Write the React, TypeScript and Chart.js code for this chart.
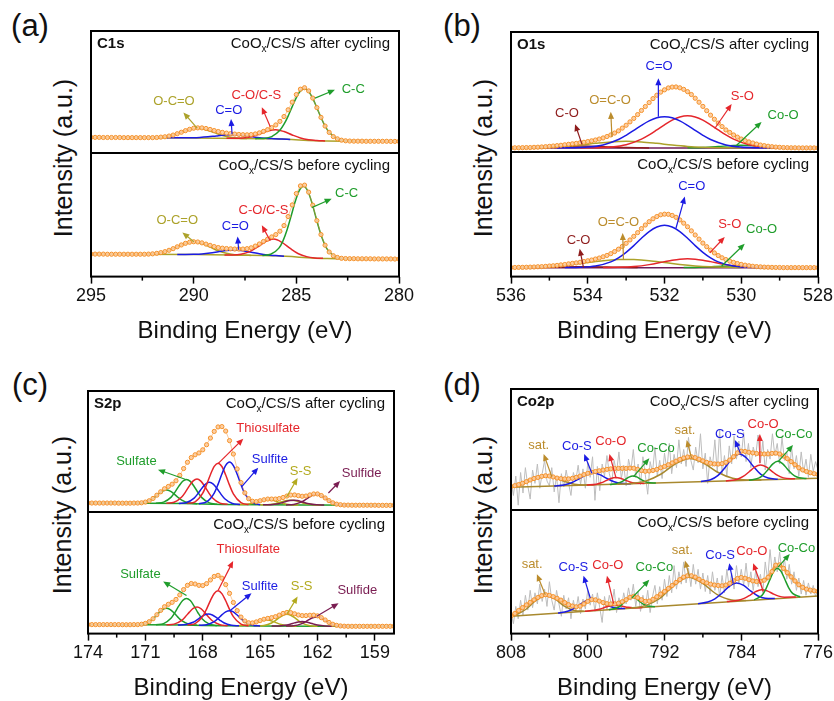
import { useEffect, useRef } from 'react';
import { Chart, registerables } from 'chart.js';

Chart.register(...registerables);

const FONT = '"Liberation Sans", Arial, Helvetica, sans-serif';
type Pt = [number, number];
type Ann = [string, string, number, number, number, number, number, number];

const OLIVE = '#aca22a', GOLD = '#bb8c2c', BLUE = '#1b1be3', RED = '#e5262b', GREEN = '#1f9d2b';
const DRED = '#8e1c1c', PURPLE = '#7a1d52', BGPUR = '#6e1c58', BROWN = '#a8892e', SSOL = '#b3aa1e';

// ---------------- (a) C1s ----------------
const aX = [
  295, 294.8, 294.6, 294.4, 294.2, 294, 293.8, 293.6, 293.4, 293.2,
  293, 292.8, 292.6, 292.4, 292.2, 292, 291.8, 291.6, 291.4, 291.2,
  291, 290.8, 290.6, 290.4, 290.2, 290, 289.8, 289.6, 289.4, 289.2,
  289, 288.8, 288.6, 288.4, 288.2, 288, 287.8, 287.6, 287.4, 287.2,
  287, 286.8, 286.6, 286.4, 286.2, 286, 285.8, 285.6, 285.4, 285.2,
  285, 284.8, 284.6, 284.4, 284.2, 284, 283.8, 283.6, 283.4, 283.2,
  283, 282.8, 282.6, 282.4, 282.2, 282, 281.8, 281.6, 281.4, 281.2,
  281, 280.8, 280.6, 280.4, 280.2, 280];
const aTopFit = [
  12.8, 12.8, 12.8, 12.7, 12.7, 12.7, 12.7, 12.7, 12.6, 12.6,
  12.6, 12.6, 12.6, 12.6, 12.6, 12.6, 12.7, 13.0, 13.3, 13.9,
  14.7, 15.8, 17.0, 18.3, 19.4, 20.3, 20.6, 20.6, 20.1, 19.3,
  18.4, 17.6, 16.9, 16.3, 15.9, 15.5, 15.2, 15.0, 14.9, 15.1,
  15.6, 16.5, 17.7, 19.1, 20.8, 23.0, 25.9, 29.9, 35.4, 41.7,
  47.9, 52.3, 53.5, 50.9, 45.0, 37.2, 29.2, 22.1, 16.9, 13.5,
  11.6, 10.5, 10.0, 9.8, 9.7, 9.7, 9.7, 9.6, 9.6, 9.6,
  9.6, 9.6, 9.6, 9.5, 9.5, 9.5];
const aBotFit = [
  18.2, 18.2, 18.2, 18.2, 18.1, 18.1, 18.1, 18.1, 18.1, 18.1,
  18.1, 18.1, 18.1, 18.1, 18.2, 18.4, 18.8, 19.4, 20.2, 21.3,
  22.6, 24.1, 25.6, 26.9, 27.8, 28.2, 28.0, 27.3, 26.3, 25.3,
  24.3, 23.5, 23.0, 22.7, 22.5, 22.3, 22.3, 22.3, 22.6, 23.3,
  24.7, 26.4, 28.4, 30.3, 32.1, 34.0, 36.7, 41.3, 48.6, 58.0,
  67.2, 73.4, 74.0, 68.3, 57.8, 45.3, 34.0, 25.4, 19.9, 16.9,
  15.5, 14.8, 14.6, 14.5, 14.5, 14.4, 14.4, 14.4, 14.4, 14.3,
  14.3, 14.3, 14.3, 14.3, 14.2, 14.2];
const aTopOCO: Pt[] = [[292.2, 12.58], [291.8, 12.74], [291.4, 13.34], [291.0, 14.73], [290.6, 16.98], [290.2, 19.3], [289.8, 20.22], [289.4, 19.13], [289.0, 16.7], [288.6, 14.34], [288.2, 12.84], [287.8, 12.13], [287.4, 11.86]];
const aTopCdO: Pt[] = [[291.3, 12.43], [290.5, 12.41], [290.1, 12.5], [289.7, 12.72], [289.3, 13.23], [288.9, 13.99], [288.5, 14.67], [288.1, 14.92], [287.7, 14.53], [287.3, 13.71], [286.9, 12.81], [286.5, 12.15], [286.1, 11.77], [285.7, 11.44], [285.3, 11.1]];
const aTopCOS: Pt[] = [[288.4, 12.0], [288.0, 12.01], [287.6, 12.31], [287.2, 13.35], [286.8, 15.45], [286.4, 17.93], [286.0, 19.1], [285.6, 17.61], [285.2, 14.77], [284.8, 12.32], [284.4, 10.92], [284.0, 10.26], [283.6, 9.89]];
const aTopCC: Pt[] = [[287.0, 11.77], [286.6, 11.96], [286.2, 13.39], [285.8, 18.59], [285.6, 23.57], [285.4, 30.27], [285.2, 37.97], [285.0, 45.38], [284.8, 50.74], [284.6, 52.59], [284.4, 50.45], [284.2, 44.8], [284.0, 37.11], [283.8, 29.12], [283.6, 22.13], [283.4, 16.93], [283.0, 11.56], [282.6, 10.03], [282.2, 9.73]];
const aTopBg: Pt[] = [[295, 12.8], [290, 12.3], [286, 11.6], [283.5, 9.8], [280, 9.5]];
const aBotOCO: Pt[] = [[292.8, 18.04], [292.4, 18.11], [292.0, 18.43], [291.6, 19.36], [291.2, 21.28], [290.8, 24.1], [290.4, 26.85], [290.0, 28.0], [289.6, 26.72], [289.2, 23.84], [288.8, 20.88], [288.4, 18.83], [288.0, 17.77], [287.6, 17.32], [287.2, 17.12]];
const aBotCdO: Pt[] = [[290.8, 17.87], [290.4, 17.88], [290.0, 18.0], [289.6, 18.3], [289.2, 19.02], [288.8, 20.13], [288.4, 21.2], [288.0, 21.6], [287.6, 21.0], [287.2, 19.73], [286.8, 18.42], [286.4, 17.5], [286.0, 17.0], [285.6, 16.5]];
const aBotCOS: Pt[] = [[288.5, 17.46], [288.1, 17.51], [287.7, 18.08], [287.3, 19.97], [286.9, 23.78], [286.5, 28.28], [286.1, 30.33], [285.7, 27.71], [285.3, 22.76], [284.9, 18.49], [284.5, 16.15], [284.1, 15.12], [283.7, 14.8]];
const aBotCC: Pt[] = [[286.65, 17.09], [286.25, 18.03], [285.85, 23.02], [285.65, 28.94], [285.45, 37.92], [285.25, 49.25], [285.05, 60.97], [284.85, 69.8], [284.65, 73.02], [284.45, 69.44], [284.25, 60.26], [284.05, 48.19], [283.85, 36.51], [283.65, 27.18], [283.45, 21.03], [283.05, 15.72], [282.65, 14.63], [282.25, 14.46]];
const aBotBg: Pt[] = [[295, 18.2], [290, 17.8], [286, 16.8], [283.5, 14.6], [280, 14.2]];
const aTopAnn: Ann[] = [
  ['O-C=O', OLIVE, 290.96, 42.2, 289.83, 20.4, 290.5, 33.2],
  ['C=O', BLUE, 288.29, 34.6, 288.13, 15.5, 288.18, 27.8],
  ['C-O/C-S', RED, 286.95, 46.9, 286.27, 21.5, 286.68, 37.6],
  ['C-C', GREEN, 282.23, 52.3, 284.09, 45, 283.12, 51.8]];
const aBotAnn: Ann[] = [
  ['O-C=O', OLIVE, 290.8, 45.6, 289.99, 28.2, 290.55, 35.7],
  ['C=O', BLUE, 287.97, 40.2, 287.81, 21.7, 287.86, 32.4],
  ['C-O/C-S', RED, 286.6, 53.6, 286.27, 29, 286.68, 41.5],
  ['C-C', GREEN, 282.55, 67, 284.25, 55.8, 283.28, 63]];

// ---------------- (b) O1s ----------------
const bX = [
  536, 535.9, 535.8, 535.7, 535.6, 535.5, 535.4, 535.3, 535.2, 535.1,
  535, 534.9, 534.8, 534.7, 534.6, 534.5, 534.4, 534.3, 534.2, 534.1,
  534, 533.9, 533.8, 533.7, 533.6, 533.5, 533.4, 533.3, 533.2, 533.1,
  533, 532.9, 532.8, 532.7, 532.6, 532.5, 532.4, 532.3, 532.2, 532.1,
  532, 531.9, 531.8, 531.7, 531.6, 531.5, 531.4, 531.3, 531.2, 531.1,
  531, 530.9, 530.8, 530.7, 530.6, 530.5, 530.4, 530.3, 530.2, 530.1,
  530, 529.9, 529.8, 529.7, 529.6, 529.5, 529.4, 529.3, 529.2, 529.1,
  529, 528.9, 528.8, 528.7, 528.6, 528.5, 528.4, 528.3, 528.2, 528.1,
  528];
const bTopFit = [
  3.5, 3.5, 3.5, 3.6, 3.7, 3.7, 3.9, 4.0, 4.2, 4.4,
  4.7, 5.0, 5.3, 5.6, 6.0, 6.4, 6.8, 7.2, 7.7, 8.1,
  8.7, 9.3, 10.0, 10.8, 11.7, 12.9, 14.2, 15.8, 17.6, 19.9,
  22.3, 25.1, 28.0, 31.2, 34.6, 37.9, 41.2, 44.5, 47.3, 49.9,
  51.8, 53.4, 54.1, 54.2, 53.5, 52.2, 50.3, 47.9, 44.8, 41.5,
  38.0, 34.4, 30.7, 27.3, 24.1, 21.2, 18.4, 16.3, 14.2, 12.4,
  10.8, 9.5, 8.4, 7.5, 6.6, 5.8, 5.3, 4.8, 4.4, 4.1,
  3.9, 3.7, 3.6, 3.5, 3.5, 3.4, 3.4, 3.4, 3.4, 3.4,
  3.4];
const bBotFit = [
  7.3, 7.3, 7.4, 7.4, 7.5, 7.6, 7.7, 7.9, 8.0, 8.2,
  8.5, 8.7, 9.0, 9.4, 9.7, 10.2, 10.6, 11.0, 11.5, 12.1,
  12.7, 13.3, 14.1, 14.9, 15.9, 17.0, 18.4, 20.1, 22.0, 24.2,
  26.7, 29.4, 32.3, 35.3, 38.5, 41.4, 44.1, 46.4, 48.2, 49.6,
  50.1, 50.0, 49.1, 47.6, 45.5, 42.9, 40.0, 36.7, 33.4, 30.1,
  26.9, 24.0, 21.3, 19.0, 16.9, 15.1, 13.7, 12.4, 11.4, 10.5,
  9.8, 9.2, 8.7, 8.3, 8.0, 7.8, 7.6, 7.5, 7.4, 7.3,
  7.3, 7.2, 7.2, 7.2, 7.2, 7.2, 7.2, 7.2, 7.2, 7.2,
  7.2];
const bTopCdO: Pt[] = [[534.8, 3.42], [534.4, 3.54], [534.0, 4.1], [533.6, 5.9], [533.2, 10.4], [533.0, 13.9], [532.8, 18.0], [532.6, 22.2], [532.4, 25.9], [532.2, 28.5], [532.0, 29.4], [531.8, 28.5], [531.6, 25.9], [531.4, 22.2], [531.2, 18.0], [531.0, 13.9], [530.8, 10.4], [530.4, 5.9], [530.0, 4.1], [529.6, 3.54], [529.2, 3.42]];
const bTopSO: Pt[] = [[534.2, 3.42], [533.8, 3.54], [533.4, 4.12], [533.0, 6.0], [532.6, 10.7], [532.4, 14.2], [532.2, 18.4], [532.0, 22.7], [531.8, 26.6], [531.6, 29.2], [531.4, 30.2], [531.2, 29.2], [531.0, 26.6], [530.8, 22.7], [530.6, 18.4], [530.4, 14.2], [530.2, 10.7], [529.8, 6.0], [529.4, 4.12], [529.0, 3.54], [528.6, 3.42]];
const bTopOCO: Pt[] = [[536, 3.43], [535.4, 3.6], [535.0, 3.96], [534.6, 4.67], [534.2, 5.81], [533.8, 7.21], [533.4, 8.42], [533.0, 8.9], [532.6, 8.42], [532.2, 7.21], [531.8, 5.81], [531.4, 4.67], [531.0, 3.96], [530.6, 3.6], [530.0, 3.43]];
const bTopCO: Pt[] = [[536, 3.43], [535.4, 3.66], [535.0, 4.08], [534.6, 4.63], [534.2, 4.9], [533.8, 4.63], [533.4, 4.08], [533.0, 3.66], [532.4, 3.43]];
const bTopCoO: Pt[] = [[531.4, 3.45], [531.0, 3.72], [530.6, 4.5], [530.2, 5.44], [530.0, 5.6], [529.8, 5.44], [529.4, 4.5], [529.0, 3.72], [528.6, 3.45]];
const bTopBg: Pt[] = [[536, 3.4], [528, 3.4]];
const bBotCdO: Pt[] = [[534.6, 7.23], [534.2, 7.44], [533.8, 8.46], [533.4, 11.8], [533.2, 15.05], [533.0, 19.5], [532.8, 24.9], [532.6, 30.8], [532.4, 36.1], [532.2, 39.8], [532.0, 41.2], [531.8, 39.8], [531.6, 36.1], [531.4, 30.8], [531.2, 24.9], [531.0, 19.5], [530.8, 15.05], [530.6, 11.8], [530.2, 8.46], [529.8, 7.44], [529.4, 7.23]];
const bBotOCO: Pt[] = [[536, 7.29], [535.6, 7.46], [535.2, 7.84], [534.8, 8.59], [534.4, 9.77], [534.0, 11.28], [533.6, 12.75], [533.2, 13.67], [533.0, 13.8], [532.8, 13.67], [532.4, 12.75], [532.0, 11.28], [531.6, 9.77], [531.2, 8.59], [530.8, 7.84], [530.4, 7.46], [530.0, 7.29]];
const bBotSO: Pt[] = [[533.6, 7.24], [533.2, 7.41], [532.8, 8.05], [532.4, 9.61], [532.0, 12.01], [531.8, 13.17], [531.6, 14.0], [531.4, 14.3], [531.2, 14.0], [531.0, 13.17], [530.8, 12.01], [530.4, 9.61], [530.0, 8.05], [529.6, 7.41], [529.2, 7.24]];
const bBotCoO: Pt[] = [[531.5, 7.28], [531.1, 7.58], [530.7, 8.16], [530.5, 8.4], [530.3, 8.5], [530.1, 8.4], [529.9, 8.16], [529.5, 7.58], [529.1, 7.28]];
const bBotCO: Pt[] = [[535.5, 7.27], [535.1, 7.43], [534.7, 7.71], [534.3, 7.96], [534.1, 8.0], [533.9, 7.96], [533.5, 7.71], [533.1, 7.43], [532.7, 7.27]];
const bBotBg: Pt[] = [[536, 7.2], [528, 7.2]];
const bTopAnn: Ann[] = [
  ['C-O', DRED, 534.54, 32, 534.15, 6.4, 534.33, 23.2],
  ['O=C-O', GOLD, 533.42, 43.3, 533.37, 12.6, 533.4, 33.5],
  ['C=O', BLUE, 532.14, 71.2, 532.16, 29.3, 532.16, 61.5],
  ['S-O', RED, 529.97, 46, 530.69, 19.6, 530.25, 40],
  ['Co-O', GREEN, 528.91, 30.7, 530.12, 5.6, 529.47, 25.1]];
const bBotAnn: Ann[] = [
  ['C-O', DRED, 534.24, 29.2, 534.11, 7.2, 534.21, 22.3],
  ['O=C-O', GOLD, 533.2, 43.5, 533.07, 13.8, 533.09, 35],
  ['C=O', BLUE, 531.29, 72.1, 531.7, 39, 531.47, 64.2],
  ['S-O', RED, 530.3, 42.2, 530.82, 19.1, 530.43, 31.8],
  ['Co-O', GREEN, 529.47, 37.7, 530.51, 8.5, 529.91, 26.3]];

// ---------------- (c) S2p ----------------
const cX = [
  174, 173.8, 173.6, 173.4, 173.2, 173, 172.8, 172.6, 172.4, 172.2,
  172, 171.8, 171.6, 171.4, 171.2, 171, 170.8, 170.6, 170.4, 170.2,
  170, 169.8, 169.6, 169.4, 169.2, 169, 168.8, 168.6, 168.4, 168.2,
  168, 167.8, 167.6, 167.4, 167.2, 167, 166.8, 166.6, 166.4, 166.2,
  166, 165.8, 165.6, 165.4, 165.2, 165, 164.8, 164.6, 164.4, 164.2,
  164, 163.8, 163.6, 163.4, 163.2, 163, 162.8, 162.6, 162.4, 162.2,
  162, 161.8, 161.6, 161.4, 161.2, 161, 160.8, 160.6, 160.4, 160.2,
  160, 159.8, 159.6, 159.4, 159.2, 159, 158.8, 158.6, 158.4, 158.2,
  158];
const cTopFit = [
  7.4, 7.4, 7.4, 7.4, 7.4, 7.4, 7.4, 7.4, 7.3, 7.3,
  7.3, 7.3, 7.4, 7.4, 7.6, 8.2, 9.3, 11.2, 13.9, 16.7,
  19.2, 21.1, 23.0, 25.8, 30.3, 35.9, 41.1, 45.0, 47.3, 48.8,
  51.4, 55.6, 61.1, 66.6, 70.3, 70.6, 66.9, 59.0, 47.9, 35.6,
  24.3, 15.8, 11.0, 8.9, 8.6, 9.3, 10.1, 10.7, 10.7, 10.7,
  11.1, 12.0, 13.2, 14.0, 14.1, 13.5, 13.0, 13.2, 14.1, 14.9,
  14.9, 13.6, 11.6, 9.4, 7.6, 6.5, 6.0, 5.7, 5.7, 5.6,
  5.6, 5.6, 5.6, 5.6, 5.6, 5.6, 5.5, 5.5, 5.5, 5.5,
  5.5];
const cBotFit = [
  7.4, 7.4, 7.4, 7.4, 7.4, 7.4, 7.4, 7.4, 7.4, 7.3,
  7.3, 7.3, 7.4, 7.4, 7.7, 8.4, 9.8, 12.2, 15.5, 19.1,
  22.1, 24.1, 25.7, 28.1, 31.8, 36.2, 39.7, 41.2, 40.8, 39.7,
  39.5, 41.1, 44.1, 47.0, 47.9, 45.6, 40.3, 33.1, 25.6, 18.9,
  13.6, 10.4, 8.9, 8.8, 9.6, 10.7, 11.8, 12.5, 13.1, 13.9,
  15.2, 16.6, 17.4, 17.2, 16.3, 15.3, 14.8, 14.8, 15.1, 15.2,
  14.6, 13.1, 11.2, 9.2, 7.7, 6.8, 6.3, 6.1, 6.0, 6.0,
  6.0, 6.0, 6.0, 6.0, 6.0, 6.0, 6.0, 6.0, 6.0, 6.0,
  6.0];
const cTopSulfate1: Pt[] = [[171.5, 7.37], [171.1, 7.84], [170.7, 10.13], [170.5, 12.39], [170.3, 15.07], [170.1, 17.29], [169.9, 18.13], [169.7, 17.22], [169.5, 14.94], [169.3, 12.21], [169.1, 9.89], [168.7, 7.44], [168.3, 6.81]];
const cTopSulfate2: Pt[] = [[170.45, 7.31], [170.05, 8.14], [169.65, 12.32], [169.45, 16.47], [169.25, 21.34], [169.05, 25.41], [168.85, 26.95], [168.65, 25.28], [168.45, 21.11], [168.25, 16.14], [168.05, 11.89], [167.65, 7.51], [167.25, 6.48]];
const cTopThio1: Pt[] = [[169.9, 7.23], [169.5, 8.07], [169.1, 12.37], [168.9, 16.61], [168.7, 21.56], [168.5, 25.69], [168.3, 27.26], [168.1, 25.55], [167.9, 21.28], [167.7, 16.19], [167.5, 11.83], [167.1, 7.34], [166.7, 6.34]];
const cTopSulfite1: Pt[] = [[169.25, 7.12], [168.85, 7.83], [168.45, 11.51], [168.25, 15.2], [168.05, 19.54], [167.85, 23.16], [167.65, 24.53], [167.45, 23.02], [167.25, 19.26], [167.05, 14.78], [166.85, 10.97], [166.45, 7.07], [166.05, 6.19]];
const cTopThio2: Pt[] = [[168.8, 7.09], [168.4, 8.46], [168.0, 15.52], [167.8, 22.56], [167.6, 30.82], [167.4, 37.72], [167.2, 40.37], [167.0, 37.58], [166.8, 30.57], [166.6, 22.2], [166.4, 15.05], [166.0, 7.77], [165.6, 6.18]];
const cTopSulfite2: Pt[] = [[168.2, 6.88], [167.8, 8.3], [167.4, 15.58], [167.2, 22.82], [167.0, 31.33], [166.8, 38.46], [166.6, 41.22], [166.4, 38.38], [166.2, 31.17], [166.0, 22.55], [165.8, 15.2], [165.4, 7.7], [165.0, 6.06]];
const cTopSS1: Pt[] = [[166.2, 6.16], [165.8, 6.28], [165.4, 7.15], [165.2, 8.06], [165.0, 9.12], [164.8, 10.03], [164.6, 10.38], [164.4, 10.0], [164.2, 9.07], [164.0, 7.96], [163.8, 7.0], [163.4, 6.02], [163.0, 5.8]];
const cTopSS2: Pt[] = [[165.0, 5.92], [164.6, 6.08], [164.2, 6.89], [164.0, 7.72], [163.8, 8.69], [163.6, 9.49], [163.4, 9.8], [163.2, 9.47], [163.0, 8.64], [162.8, 7.64], [162.6, 6.79], [162.2, 5.92], [161.8, 5.71]];
const cTopSulfide1: Pt[] = [[164.85, 5.91], [164.45, 6.06], [164.05, 6.88], [163.85, 7.71], [163.65, 8.68], [163.45, 9.48], [163.25, 9.79], [163.05, 9.46], [162.85, 8.63], [162.65, 7.63], [162.45, 6.78], [162.05, 5.9], [161.65, 5.7]];
const cTopSulfide2: Pt[] = [[163.65, 5.85], [163.25, 6.24], [162.85, 8.11], [162.65, 9.99], [162.45, 12.18], [162.25, 14.0], [162.05, 14.7], [161.85, 13.98], [161.65, 12.12], [161.45, 9.91], [161.25, 8.02], [160.85, 6.08], [160.45, 5.66]];
const cTopBg: Pt[] = [[174, 7.4], [171, 7.3], [169, 7.0], [167, 6.3], [165, 5.9], [162, 5.7], [158, 5.5]];
const cBotSulfate1: Pt[] = [[171.5, 7.38], [171.1, 7.98], [170.7, 10.86], [170.5, 13.71], [170.3, 17.07], [170.1, 19.87], [169.9, 20.93], [169.7, 19.8], [169.5, 16.94], [169.3, 13.53], [169.1, 10.62], [168.7, 7.6], [168.3, 6.89]];
const cBotSulfate2: Pt[] = [[170.45, 7.32], [170.05, 8.24], [169.65, 12.84], [169.45, 17.41], [169.25, 22.77], [169.05, 27.25], [168.85, 28.96], [168.65, 27.15], [168.45, 22.59], [168.25, 17.15], [168.05, 12.5], [167.65, 7.74], [167.25, 6.66]];
const cBotThio1: Pt[] = [[169.9, 7.2], [169.5, 7.81], [169.1, 10.94], [168.9, 14.02], [168.7, 17.65], [168.5, 20.67], [168.3, 21.83], [168.1, 20.58], [167.9, 17.46], [167.7, 13.73], [167.5, 10.55], [167.1, 7.27], [166.7, 6.52]];
const cBotSulfite1: Pt[] = [[169.3, 7.08], [168.9, 7.43], [168.5, 9.32], [168.3, 11.25], [168.1, 13.5], [167.9, 15.38], [167.7, 16.08], [167.5, 15.28], [167.3, 13.3], [167.1, 10.95], [166.9, 8.93], [166.5, 6.89], [166.1, 6.41]];
const cBotThio2: Pt[] = [[168.8, 7.08], [168.4, 8.26], [168.0, 14.24], [167.8, 20.19], [167.6, 27.17], [167.4, 33.0], [167.2, 35.25], [167.0, 32.9], [166.8, 26.99], [166.6, 19.93], [166.4, 13.9], [166.0, 7.76], [165.6, 6.42]];
const cBotSulfite2: Pt[] = [[168.2, 6.86], [167.8, 7.31], [167.4, 9.84], [167.2, 12.38], [167.0, 15.37], [166.8, 17.88], [166.6, 18.84], [166.4, 17.82], [166.2, 15.25], [166.0, 12.18], [165.8, 9.56], [165.4, 6.87], [165.0, 6.26]];
const cBotSS1: Pt[] = [[166.3, 6.42], [165.9, 6.59], [165.5, 7.64], [165.3, 8.69], [165.1, 9.94], [164.9, 10.97], [164.7, 11.38], [164.5, 10.95], [164.3, 9.87], [164.1, 8.58], [163.9, 7.49], [163.5, 6.35], [163.1, 6.09]];
const cBotSS2: Pt[] = [[165.2, 6.28], [164.8, 6.67], [164.4, 8.72], [164.2, 10.76], [164.0, 13.13], [163.8, 15.14], [163.6, 15.91], [163.4, 15.11], [163.2, 13.08], [163.0, 10.68], [162.8, 8.61], [162.4, 6.51], [162.0, 6.05]];
const cBotSulfide1: Pt[] = [[164.4, 6.18], [164.0, 6.32], [163.6, 7.1], [163.4, 7.88], [163.2, 8.8], [163.0, 9.57], [162.8, 9.85], [162.6, 9.54], [162.4, 8.75], [162.2, 7.8], [162.0, 6.99], [161.6, 6.19], [161.2, 6.02]];
const cBotSulfide2: Pt[] = [[163.65, 6.15], [163.25, 6.45], [162.85, 8.03], [162.65, 9.6], [162.45, 11.45], [162.25, 12.99], [162.05, 13.6], [161.85, 12.99], [161.65, 11.43], [161.45, 9.57], [161.25, 7.98], [160.85, 6.37], [160.45, 6.04]];
const cBotBg: Pt[] = [[174, 7.4], [171, 7.3], [169, 7.0], [167, 6.5], [165, 6.2], [162, 6.0], [158, 6.0]];
const cTopAnn: Ann[] = [
  ['Sulfate', GREEN, 171.47, 42.1, 168.85, 26.7, 170.34, 35],
  ['Thiosulfate', RED, 164.58, 69.4, 167.2, 40, 165.88, 60.6],
  ['Sulfite', BLUE, 164.49, 43.2, 165.97, 20.7, 165.1, 36.6],
  ['S-S', SSOL, 162.88, 33.9, 163.62, 12.4, 163.04, 28.1],
  ['Sulfide', PURPLE, 159.69, 32.2, 161.43, 15.7, 160.82, 25.6]];
const cBotAnn: Ann[] = [
  ['Sulfate', GREEN, 171.26, 48.8, 168.85, 31.3, 170.07, 42.8],
  ['Thiosulfate', RED, 165.62, 69.2, 167.2, 35.4, 166.41, 59.7],
  ['Sulfite', BLUE, 165.01, 39.2, 166.58, 18.8, 165.45, 33.2],
  ['S-S', SSOL, 162.83, 39.2, 163.6, 16, 163.04, 30.5],
  ['Sulfide', PURPLE, 159.92, 35.4, 162.04, 14.2, 160.9, 25]];

// ---------------- (d) Co2p ----------------
const dX = [
  808, 807.6, 807.2, 806.8, 806.4, 806, 805.6, 805.2, 804.8, 804.4,
  804, 803.6, 803.2, 802.8, 802.4, 802, 801.6, 801.2, 800.8, 800.4,
  800, 799.6, 799.2, 798.8, 798.4, 798, 797.6, 797.2, 796.8, 796.4,
  796, 795.6, 795.2, 794.8, 794.4, 794, 793.6, 793.2, 792.8, 792.4,
  792, 791.6, 791.2, 790.8, 790.4, 790, 789.6, 789.2, 788.8, 788.4,
  788, 787.6, 787.2, 786.8, 786.4, 786, 785.6, 785.2, 784.8, 784.4,
  784, 783.6, 783.2, 782.8, 782.4, 782, 781.6, 781.2, 780.8, 780.4,
  780, 779.6, 779.2, 778.8, 778.4, 778, 777.6, 777.2, 776.8, 776.4,
  776];
const dTopFit = [
  19.3, 20.1, 21.0, 22.1, 23.4, 24.8, 26.0, 26.9, 27.8, 28.3,
  28.1, 27.3, 26.4, 25.9, 25.7, 25.7, 26.2, 27.0, 28.0, 29.2,
  30.3, 31.2, 31.8, 32.4, 33.0, 33.6, 34.0, 34.3, 34.4, 34.4,
  34.4, 34.6, 34.5, 33.6, 32.6, 32.0, 32.2, 32.7, 33.6, 34.9,
  36.0, 37.4, 38.9, 40.4, 41.8, 43.0, 43.8, 44.0, 43.3, 42.0,
  40.6, 39.4, 38.6, 38.1, 38.0, 38.3, 39.4, 41.3, 44.0, 47.2,
  48.6, 48.4, 47.7, 47.2, 46.7, 46.4, 46.3, 46.4, 46.8, 47.0,
  46.3, 44.6, 42.4, 40.0, 37.4, 34.9, 33.1, 31.8, 30.8, 30.0,
  29.3];
const dBotFit = [
  14.0, 16.3, 18.7, 21.0, 23.2, 25.3, 27.3, 29.2, 30.7, 31.5,
  30.9, 29.9, 28.6, 27.1, 25.1, 23.4, 22.3, 21.7, 22.2, 24.0,
  26.1, 27.6, 27.3, 26.3, 25.1, 24.2, 24.0, 24.1, 24.6, 25.8,
  27.4, 29.4, 30.2, 29.0, 27.4, 26.1, 26.3, 27.8, 29.8, 32.0,
  34.1, 36.5, 38.9, 41.4, 43.7, 45.7, 46.8, 46.8, 45.7, 44.0,
  42.2, 41.0, 40.0, 39.3, 38.9, 38.7, 39.3, 40.7, 42.7, 44.6,
  45.4, 44.8, 43.6, 42.6, 42.1, 42.2, 43.2, 45.6, 50.2, 55.4,
  55.6, 52.8, 49.3, 45.9, 42.6, 39.5, 37.4, 36.0, 35.2, 34.6,
  34.1];
const dRawX = [
  808, 807.75, 807.5, 807.25, 807, 806.75, 806.5, 806.25, 806, 805.75, 805.5, 805.25,
  805, 804.75, 804.5, 804.25, 804, 803.75, 803.5, 803.25, 803, 802.75, 802.5, 802.25,
  802, 801.75, 801.5, 801.25, 801, 800.75, 800.5, 800.25, 800, 799.75, 799.5, 799.25,
  799, 798.75, 798.5, 798.25, 798, 797.75, 797.5, 797.25, 797, 796.75, 796.5, 796.25,
  796, 795.75, 795.5, 795.25, 795, 794.75, 794.5, 794.25, 794, 793.75, 793.5, 793.25,
  793, 792.75, 792.5, 792.25, 792, 791.75, 791.5, 791.25, 791, 790.75, 790.5, 790.25,
  790, 789.75, 789.5, 789.25, 789, 788.75, 788.5, 788.25, 788, 787.75, 787.5, 787.25,
  787, 786.75, 786.5, 786.25, 786, 785.75, 785.5, 785.25, 785, 784.75, 784.5, 784.25,
  784, 783.75, 783.5, 783.25, 783, 782.75, 782.5, 782.25, 782, 781.75, 781.5, 781.25,
  781, 780.75, 780.5, 780.25, 780, 779.75, 779.5, 779.25, 779, 778.75, 778.5, 778.25,
  778, 777.75, 777.5, 777.25, 777, 776.75, 776.5, 776.25, 776];
const dTopRaw = [
  24, 12, 28, 4, 31, 14, 35, 20, 9, 33, 22, 38,
  18, 30, 41, 24, 20, 35, 15, 28, 6, 30, 19, 33,
  22, 12, 31, 24, 37, 21, 34, 18, 39, 27, 44, 8,
  36, 16, 38, 28, 45, 30, 22, 41, 31, 48, 26, 37,
  20, 42, 33, 50, 27, 38, 21, 44, 29, 13, 40, 31,
  52, 28, 41, 26, 47, 33, 55, 30, 46, 35, 58, 38,
  50, 36, 60, 41, 33, 52, 39, 63, 34, 47, 22, 44,
  36, 58, 31, 66, 30, 45, 28, 53, 38, 61, 42, 57,
  44, 64, 40, 55, 35, 52, 44, 62, 39, 57, 33, 50,
  42, 63, 45, 55, 38, 60, 41, 48, 30, 52, 34, 45,
  28, 48, 31, 42, 27, 46, 32, 40, 33];
const dBotRaw = [
  17, 8, 22, 12, 27, 15, 31, 19, 35, 21, 33, 24,
  40, 26, 36, 22, 42, 27, 19, 35, 24, 14, 31, 20,
  29, 12, 27, 18, 30, 16, 28, 20, 35, 23, 32, 18,
  33, 21, 9, 30, 19, 31, 22, 36, 17, 29, 20, 33,
  24, 37, 27, 40, 22, 34, 18, 31, 21, 35, 17, 30,
  39, 24, 38, 27, 44, 30, 47, 33, 55, 36, 50, 40,
  58, 41, 53, 38, 56, 40, 52, 36, 49, 34, 47, 32,
  50, 35, 45, 30, 47, 33, 52, 37, 49, 36, 55, 40,
  52, 39, 57, 38, 50, 35, 51, 38, 48, 33, 58, 43,
  68, 48, 62, 50, 66, 49, 61, 44, 56, 40, 50, 35,
  45, 32, 43, 31, 41, 32, 39, 30, 37];
const dTopSat1: Pt[] = [[808, 19.16], [807.4, 19.97], [806.4, 22.55], [805.4, 26.17], [804.4, 28.14], [803.4, 26.64], [802.4, 23.49], [801.4, 21.37], [800.4, 20.71], [799.4, 20.74]];
const dTopCoS1: Pt[] = [[803.5, 19.82], [802.5, 20.62], [801.75, 22.26], [801, 25.34], [800.25, 28.92], [799.5, 30.69], [798.75, 29.27], [798, 26.04], [797.25, 23.32], [796.5, 22.02], [795.5, 21.7]];
const dTopCoO1: Pt[] = [[800.1, 20.58], [799.1, 21.36], [798.6, 22.47], [798.1, 24.23], [797.6, 26.07], [797.1, 26.95], [796.6, 26.31], [796.1, 24.69], [795.6, 23.17], [795.1, 22.3], [794.1, 21.98]];
const dTopCoCo1: Pt[] = [[797.7, 21.15], [796.9, 22.02], [796.5, 23.25], [796.1, 25.18], [795.7, 27.16], [795.3, 28.07], [794.9, 27.34], [794.5, 25.56], [794.1, 23.81], [793.7, 22.76], [792.9, 22.27]];
const dTopSat2: Pt[] = [[796.9, 21.34], [795.4, 22.0], [793.9, 24.08], [792.4, 29.56], [790.9, 37.97], [789.4, 42.65], [787.9, 38.67], [786.4, 30.96], [784.9, 26.18], [783.4, 24.8], [781.9, 24.84]];
const dTopCoS2: Pt[] = [[788.2, 23.54], [787.2, 25.0], [786.45, 28.41], [785.7, 34.97], [784.95, 42.65], [784.2, 46.32], [783.45, 43.0], [782.7, 35.67], [781.95, 29.47], [781.2, 26.41], [780.2, 25.42]];
const dTopCoO2: Pt[] = [[785.6, 24.06], [784.4, 25.44], [783.8, 27.7], [783.2, 31.42], [782.6, 35.39], [782.0, 37.23], [781.4, 35.67], [780.8, 31.98], [780.2, 28.54], [779.6, 26.56], [778.4, 25.73]];
const dTopCoCo2: Pt[] = [[783.2, 24.64], [782.2, 26.3], [781.7, 29.03], [781.2, 33.49], [780.7, 38.14], [780.2, 40.26], [779.7, 38.37], [779.2, 33.95], [778.7, 29.73], [778.2, 27.24], [777.2, 26.05]];
const dTopBg: Pt[] = [[808, 18.7], [776, 26.2]];
const dBotSat1: Pt[] = [[808, 14.45], [807.4, 15.61], [806.4, 19.9], [805.4, 26.79], [804.4, 30.86], [803.4, 27.82], [802.4, 21.96], [801.4, 18.71], [800.4, 18.12]];
const dBotCoS1: Pt[] = [[803.1, 16.66], [802.4, 17.5], [801.7, 19.29], [801, 22.46], [800.3, 26.13], [799.6, 28.03], [798.9, 26.85], [798.2, 23.91], [797.5, 21.46], [796.8, 20.39], [796.1, 20.27]];
const dBotCoO1: Pt[] = [[800.3, 17.99], [799.3, 18.84], [798.8, 19.71], [798.3, 20.97], [797.8, 22.29], [797.3, 23.02], [796.8, 22.81], [796.3, 22.01], [795.8, 21.25], [795.3, 20.9], [794.3, 21.09]];
const dBotCoCo1: Pt[] = [[797.8, 19.32], [797.0, 20.68], [796.6, 22.5], [796.2, 25.29], [795.8, 28.14], [795.4, 29.5], [795.0, 28.56], [794.6, 26.11], [794.2, 23.74], [793.8, 22.34], [793.0, 21.8]];
const dBotSat2: Pt[] = [[795.5, 20.61], [794, 22.61], [792.5, 28.4], [791, 38.94], [789.5, 45.55], [788, 40.49], [786.5, 31.5], [785, 27.26], [783.5, 26.8]];
const dBotCoS2: Pt[] = [[788.5, 24.17], [787.5, 25.51], [786.75, 28.08], [786.0, 32.76], [785.25, 38.19], [784.5, 40.93], [783.75, 38.97], [783.0, 34.3], [782.25, 30.4], [781.5, 28.61], [780.5, 28.3]];
const dBotCoO2: Pt[] = [[785.5, 25.89], [784.3, 26.98], [783.7, 28.45], [783.1, 31.01], [782.5, 33.98], [781.9, 35.53], [781.3, 34.6], [780.7, 32.25], [780.1, 30.31], [779.5, 29.46], [778.3, 29.61]];
const dBotCoCo2: Pt[] = [[782.65, 27.33], [781.85, 30.9], [781.45, 35.83], [781.05, 42.98], [780.65, 49.89], [780.25, 52.97], [779.85, 50.31], [779.45, 43.8], [779.05, 37.07], [778.65, 32.56], [777.85, 29.81]];
const dBotBg: Pt[] = [[808, 14.0], [776, 30.5]];
const dTopAnn: Ann[] = [
  ['sat.', GOLD, 805.12, 53.7, 803.74, 27.5, 804.6, 46.3],
  ['Co-S', BLUE, 801.13, 52.9, 799.57, 30.3, 800.37, 46.3],
  ['Co-O', RED, 797.6, 56.5, 797.04, 26.2, 797.74, 46.3],
  ['Co-Co', GREEN, 792.88, 51, 795.24, 27.5, 793.58, 42.7],
  ['sat.', GOLD, 789.87, 66.1, 789.17, 42.7, 789.69, 57.9],
  ['Co-S', BLUE, 785.18, 62.8, 784.08, 46.8, 784.66, 57.9],
  ['Co-O', RED, 781.72, 70.8, 782.06, 38.6, 782.06, 62.8],
  ['Co-Co', GREEN, 778.53, 62.5, 780.16, 40, 778.6, 53.7]];
const dBotAnn: Ann[] = [
  ['sat.', GOLD, 805.8, 55.6, 804.43, 31.5, 805.3, 48.1],
  ['Co-S', BLUE, 801.5, 53.8, 799.74, 28.8, 800.44, 46.8],
  ['Co-O', RED, 797.9, 54.8, 797.3, 24.2, 798.0, 46.8],
  ['Co-Co', GREEN, 793.06, 53.8, 795.4, 28.8, 793.58, 43.5],
  ['sat.', GOLD, 790.14, 67.7, 789.4, 46.2, 789.87, 59.1],
  ['Co-S', BLUE, 786.2, 62.9, 784.84, 40.9, 785.25, 57],
  ['Co-O', RED, 782.9, 66.4, 781.7, 34.1, 782.76, 57],
  ['Co-Co', GREEN, 778.25, 69.1, 780.16, 53.8, 778.94, 64.5]];

// ---------------- specs ----------------
interface Comp { pts: Pt[]; color: string }
interface Sub {
  x: number[]; fit: number[]; fitLine: number; comps: Comp[]; bg: Pt[]; bgColor: string;
  rawX?: number[]; raw?: number[]; anns: Ann[]; sample: string; tag?: string;
}
interface Panel {
  id: string; L: number; R: number; T: number; D: number; B: number;
  min: number; max: number; major: number; step: number;
  letter: string; lx: number; ly: number; yx: number; yy: number; top: Sub; bot: Sub;
}

const AFTER = '/CS/S after cycling';
const BEFORE = '/CS/S before cycling';

const panels: Panel[] = [
  {
    id: 'a', L: 91, R: 399, T: 31, D: 153, B: 277, min: 280, max: 295, major: 5, step: 2.5,
    letter: '(a)', lx: 30, ly: 25, yx: 63, yy: 158,
    top: { x: aX, fit: aTopFit, fitLine: 1, comps: [
      { pts: aTopCC, color: GREEN }, { pts: aTopCOS, color: RED }, { pts: aTopCdO, color: BLUE }, { pts: aTopOCO, color: OLIVE }],
      bg: aTopBg, bgColor: OLIVE, anns: aTopAnn, sample: AFTER, tag: 'C1s' },
    bot: { x: aX, fit: aBotFit, fitLine: 1, comps: [
      { pts: aBotCC, color: GREEN }, { pts: aBotCOS, color: RED }, { pts: aBotCdO, color: BLUE }, { pts: aBotOCO, color: OLIVE }],
      bg: aBotBg, bgColor: OLIVE, anns: aBotAnn, sample: BEFORE },
  },
  {
    id: 'b', L: 511, R: 818, T: 32, D: 152, B: 277, min: 528, max: 536, major: 2, step: 1,
    letter: '(b)', lx: 462, ly: 25, yx: 483, yy: 158,
    top: { x: bX, fit: bTopFit, fitLine: 1, comps: [
      { pts: bTopCdO, color: BLUE }, { pts: bTopSO, color: RED }, { pts: bTopOCO, color: OLIVE }, { pts: bTopCoO, color: GREEN }, { pts: bTopCO, color: DRED }],
      bg: bTopBg, bgColor: BGPUR, anns: bTopAnn, sample: AFTER, tag: 'O1s' },
    bot: { x: bX, fit: bBotFit, fitLine: 1, comps: [
      { pts: bBotCdO, color: BLUE }, { pts: bBotSO, color: RED }, { pts: bBotOCO, color: OLIVE }, { pts: bBotCoO, color: GREEN }, { pts: bBotCO, color: DRED }],
      bg: bBotBg, bgColor: BGPUR, anns: bBotAnn, sample: BEFORE },
  },
  {
    id: 'c', L: 88, R: 394, T: 391, D: 512, B: 634, min: 158, max: 174, major: 3, step: 1.5,
    letter: '(c)', lx: 30, ly: 384, yx: 62, yy: 515,
    top: { x: cX, fit: cTopFit, fitLine: 1, comps: [
      { pts: cTopSulfite2, color: BLUE }, { pts: cTopThio2, color: RED }, { pts: cTopSulfite1, color: BLUE }, { pts: cTopThio1, color: RED },
      { pts: cTopSulfate2, color: GREEN }, { pts: cTopSulfate1, color: GREEN },
      { pts: cTopSulfide2, color: PURPLE }, { pts: cTopSulfide1, color: PURPLE }, { pts: cTopSS2, color: SSOL }, { pts: cTopSS1, color: SSOL }],
      bg: cTopBg, bgColor: GREEN, anns: cTopAnn, sample: AFTER, tag: 'S2p' },
    bot: { x: cX, fit: cBotFit, fitLine: 1, comps: [
      { pts: cBotSulfite2, color: BLUE }, { pts: cBotThio2, color: RED }, { pts: cBotSulfite1, color: BLUE }, { pts: cBotThio1, color: RED },
      { pts: cBotSulfate2, color: GREEN }, { pts: cBotSulfate1, color: GREEN },
      { pts: cBotSulfide2, color: PURPLE }, { pts: cBotSulfide1, color: PURPLE }, { pts: cBotSS2, color: SSOL }, { pts: cBotSS1, color: SSOL }],
      bg: cBotBg, bgColor: GREEN, anns: cBotAnn, sample: BEFORE },
  },
  {
    id: 'd', L: 511, R: 818, T: 389, D: 510, B: 634, min: 776, max: 808, major: 8, step: 4,
    letter: '(d)', lx: 462, ly: 384, yx: 483, yy: 515,
    top: { x: dX, fit: dTopFit, fitLine: 3, comps: [
      { pts: dTopCoCo2, color: GREEN }, { pts: dTopCoO2, color: RED }, { pts: dTopCoS2, color: BLUE }, { pts: dTopSat2, color: BROWN },
      { pts: dTopCoCo1, color: GREEN }, { pts: dTopCoO1, color: RED }, { pts: dTopCoS1, color: BLUE }, { pts: dTopSat1, color: BROWN }],
      bg: dTopBg, bgColor: BROWN, rawX: dRawX, raw: dTopRaw, anns: dTopAnn, sample: AFTER, tag: 'Co2p' },
    bot: { x: dX, fit: dBotFit, fitLine: 3, comps: [
      { pts: dBotCoCo2, color: GREEN }, { pts: dBotCoO2, color: RED }, { pts: dBotCoS2, color: BLUE }, { pts: dBotSat2, color: BROWN },
      { pts: dBotCoCo1, color: GREEN }, { pts: dBotCoO1, color: RED }, { pts: dBotCoS1, color: BLUE }, { pts: dBotSat1, color: BROWN }],
      bg: dBotBg, bgColor: BROWN, rawX: dRawX, raw: dBotRaw, anns: dBotAnn, sample: BEFORE },
  },
];

// ---------------- drawing helpers ----------------
function drawArrow(ctx: CanvasRenderingContext2D, x1: number, y1: number, x2: number, y2: number, color: string) {
  const ang = Math.atan2(y2 - y1, x2 - x1);
  const hl = 7, hw = 3;
  const c = Math.cos(ang), s = Math.sin(ang);
  ctx.strokeStyle = color; ctx.fillStyle = color; ctx.lineWidth = 1.2;
  ctx.beginPath(); ctx.moveTo(x1, y1); ctx.lineTo(x2 - hl * 0.7 * c, y2 - hl * 0.7 * s); ctx.stroke();
  ctx.beginPath();
  ctx.moveTo(x2, y2);
  ctx.lineTo(x2 - hl * c + hw * s, y2 - hl * s - hw * c);
  ctx.lineTo(x2 - hl * c - hw * s, y2 - hl * s + hw * c);
  ctx.closePath(); ctx.fill();
}

function drawSample(ctx: CanvasRenderingContext2D, rest: string, right: number, cy: number) {
  const big = `15px ${FONT}`, small = `10px ${FONT}`;
  ctx.font = big;
  const w1 = ctx.measureText('CoO').width;
  const w3 = ctx.measureText(rest).width;
  ctx.font = small;
  const w2 = ctx.measureText('x').width;
  let x = right - (w1 + w2 + w3);
  ctx.fillStyle = '#111'; ctx.textAlign = 'left'; ctx.textBaseline = 'middle';
  ctx.font = big; ctx.fillText('CoO', x, cy); x += w1;
  ctx.font = small; ctx.fillText('x', x, cy + 5); x += w2;
  ctx.font = big; ctx.fillText(rest, x, cy);
}

function isMajor(v: number, major: number) {
  const r = v / major;
  return Math.abs(r - Math.round(r)) < 1e-6;
}

function buildConfig(p: Panel, s: Sub, bottom: boolean): any {
  const datasets: any[] = [];
  datasets.push({
    data: s.x.map((x, i) => ({ x, y: s.fit[i] })),
    showLine: true,
    borderColor: s.fitLine > 1 ? 'rgba(245,150,50,0.85)' : 'rgba(246,150,60,0.5)',
    borderWidth: s.fitLine,
    pointRadius: 2.1, pointBorderWidth: 1, pointBorderColor: '#f5922a',
    pointBackgroundColor: 'rgba(252,204,160,0.9)', tension: 0,
  });
  for (const c of s.comps) {
    datasets.push({
      data: c.pts.map(([x, y]) => ({ x, y })), borderColor: c.color, borderWidth: 1.5,
      pointRadius: 0, cubicInterpolationMode: 'monotone',
    });
  }
  datasets.push({
    data: s.bg.map(([x, y]) => ({ x, y })), borderColor: s.bgColor, borderWidth: 1.5,
    pointRadius: 0, cubicInterpolationMode: 'monotone',
  });
  if (s.raw && s.rawX) {
    const rx = s.rawX;
    datasets.push({
      data: s.raw.map((y, i) => ({ x: rx[i], y })), borderColor: '#bdbdbd', borderWidth: 1,
      pointRadius: 0, tension: 0,
    });
  }

  const deco = {
    id: 'deco' + p.id + (bottom ? 'b' : 't'),
    afterDatasetsDraw(chart: any) {
      const { ctx, chartArea: a, scales } = chart;
      const xs = scales.x, ys = scales.y;
      ctx.save();
      for (const [text, color, tx, ty, x1, y1, x2, y2] of s.anns) {
        drawArrow(ctx, xs.getPixelForValue(x1), ys.getPixelForValue(y1), xs.getPixelForValue(x2), ys.getPixelForValue(y2), color);
        ctx.fillStyle = color; ctx.font = `13px ${FONT}`; ctx.textAlign = 'center'; ctx.textBaseline = 'middle';
        ctx.fillText(text, xs.getPixelForValue(tx), ys.getPixelForValue(ty));
      }
      drawSample(ctx, s.sample, a.right - 9, a.top + 13);
      if (s.tag) {
        ctx.fillStyle = '#111'; ctx.font = `bold 15px ${FONT}`; ctx.textAlign = 'left'; ctx.textBaseline = 'middle';
        ctx.fillText(s.tag, a.left + 6, a.top + 13);
      }
      ctx.strokeStyle = '#000'; ctx.lineWidth = 2;
      ctx.strokeRect(a.left, a.top, a.right - a.left, a.bottom - a.top);
      if (bottom) {
        ctx.lineWidth = 1.5;
        for (const t of xs.ticks) {
          if (isMajor(t.value, p.major)) continue;
          if (t.value <= p.min + 1e-6 || t.value >= p.max - 1e-6) continue;
          const px = xs.getPixelForValue(t.value);
          ctx.beginPath(); ctx.moveTo(px, a.bottom); ctx.lineTo(px, a.bottom + 4); ctx.stroke();
        }
      }
      ctx.restore();
    },
  };

  return {
    type: 'line',
    data: { datasets },
    options: {
      responsive: false, animation: false, devicePixelRatio: 1, events: [],
      layout: { autoPadding: false, padding: bottom ? { left: 25, right: 25, top: 2, bottom: 0 } : 2 },
      plugins: { legend: { display: false }, tooltip: { enabled: false } },
      scales: {
        x: {
          type: 'linear', min: p.min, max: p.max, reverse: true, display: bottom,
          ticks: {
            stepSize: p.step, autoSkip: false, maxRotation: 0, padding: 2, color: '#111', includeBounds: false,
            font: { size: 18, family: FONT },
            callback: (v: number) => (isMajor(v, p.major) ? String(Math.round(v)) : ''),
          },
          grid: {
            display: true, drawOnChartArea: false, drawTicks: true, tickLength: 7, tickWidth: 1.5,
            tickColor: (c: any) => (c.tick && isMajor(c.tick.value, p.major) ? '#000' : 'rgba(0,0,0,0)'),
          },
          border: { display: false },
          title: {
            display: true, text: 'Binding Energy (eV)', color: '#111',
            font: { size: 24, family: FONT }, padding: { top: 8, bottom: 4 },
          },
        },
        y: { type: 'linear', min: 0, max: 100, display: false },
      },
    },
    plugins: [deco],
  };
}

function SubChart({ p, s, bottom }: { p: Panel; s: Sub; bottom: boolean }) {
  const ref = useRef<HTMLCanvasElement | null>(null);
  const left = bottom ? p.L - 25 : p.L - 2;
  const top = bottom ? p.D - 2 : p.T - 2;
  const w = bottom ? p.R - p.L + 50 : p.R - p.L + 4;
  const h = bottom ? p.B - p.D + 75 : p.D - p.T + 4;
  useEffect(() => {
    if (!ref.current) return;
    const chart = new Chart(ref.current, buildConfig(p, s, bottom));
    return () => chart.destroy();
  }, []);
  return (
    <canvas ref={ref} width={w} height={h}
      style={{ position: 'absolute', left, top, width: w, height: h }} />
  );
}

export default function App() {
  return (
    <div style={{ position: 'fixed', left: 0, top: 0, width: 834, height: 701, background: '#fff', overflow: 'hidden', fontFamily: FONT, color: '#111' }}>
      {panels.map((p) => (
        <div key={p.id}>
          <div style={{ position: 'absolute', left: p.lx, top: p.ly, transform: 'translate(-50%,-50%)', fontSize: 31, lineHeight: 1, whiteSpace: 'nowrap' }}>{p.letter}</div>
          <div style={{ position: 'absolute', left: p.yx, top: p.yy, transform: 'translate(-50%,-50%) rotate(-90deg)', fontSize: 25, lineHeight: 1, whiteSpace: 'nowrap' }}>Intensity (a.u.)</div>
          <SubChart p={p} s={p.top} bottom={false} />
          <SubChart p={p} s={p.bot} bottom={true} />
        </div>
      ))}
    </div>
  );
}
